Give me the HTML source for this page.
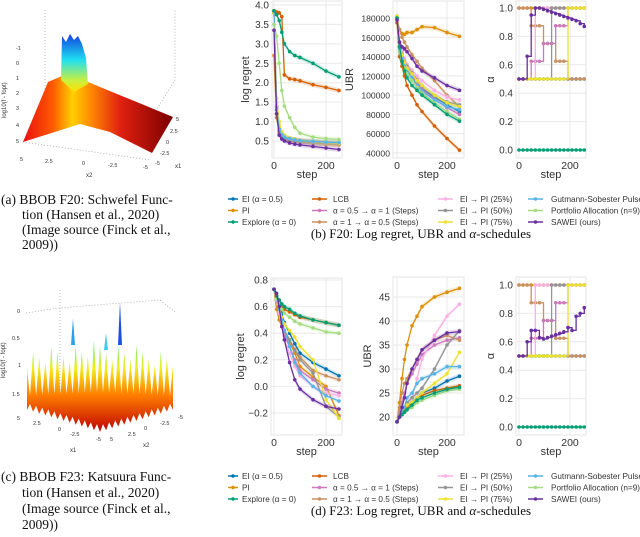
<!DOCTYPE html>
<html><head><meta charset="utf-8"><style>
body{margin:0;background:#fff;width:640px;height:537px;overflow:hidden}
svg{display:block}
.t{font-family:"Liberation Sans",sans-serif;fill:#333}
.c{font-family:"Liberation Serif",serif;fill:#111}
</style></head><body>
<svg id="fig" width="640" height="537" viewBox="0 0 640 537">
<defs>
<linearGradient id="g1" x1="0" y1="0" x2="1" y2="0"><stop offset="0" stop-color="#e81010"/><stop offset="0.2" stop-color="#ff5a00"/><stop offset="0.33" stop-color="#ffd000"/><stop offset="0.45" stop-color="#ff8a00"/><stop offset="0.65" stop-color="#e02010"/><stop offset="1" stop-color="#7a0000"/></linearGradient>
<linearGradient id="g2" x1="0" y1="0" x2="0" y2="1"><stop offset="0" stop-color="#1040e0"/><stop offset="0.45" stop-color="#20e0f0"/><stop offset="0.8" stop-color="#c8f040"/><stop offset="1" stop-color="#ffe000"/></linearGradient>
<linearGradient id="g3" gradientUnits="userSpaceOnUse" x1="0" y1="325" x2="0" y2="432"><stop offset="0" stop-color="#30c0f0"/><stop offset="0.2" stop-color="#70f070"/><stop offset="0.4" stop-color="#f0f020"/><stop offset="0.65" stop-color="#ff8000"/><stop offset="1" stop-color="#c00000"/></linearGradient>
</defs>
<g>
<polyline points="45,10 45,110 150,120 175,80 175,10" fill="none" stroke="#999" stroke-dasharray="1,2" stroke-width="0.7"/>
<polyline points="45,110 23,142 150,160" fill="none" stroke="#999" stroke-dasharray="1,2" stroke-width="0.7"/>
<polygon points="23,142 48,82 62,76 88,82 173,117 152,153 110,132 80,124" fill="url(#g1)"/>
<polygon points="61,80 62,36 66,42 70,34 74,40 78,36 82,44 86,58 88,84 74,92" fill="url(#g2)"/>
<text class="t" x="6" y="118" font-size="6" transform="rotate(-90 6 118)">log10(f - fopt)</text>
<text class="t" x="16" y="50" font-size="5.5">-1</text><text class="t" x="16" y="65" font-size="5.5">0</text><text class="t" x="16" y="80" font-size="5.5">1</text><text class="t" x="16" y="95" font-size="5.5">2</text><text class="t" x="16" y="110" font-size="5.5">3</text><text class="t" x="16" y="127" font-size="5.5">4</text><text class="t" x="16" y="143" font-size="5.5">5</text>
<text class="t" x="20" y="161" font-size="5.5">5</text><text class="t" x="45" y="163" font-size="5.5">2.5</text><text class="t" x="82" y="165" font-size="5.5">0</text><text class="t" x="108" y="167" font-size="5.5">-2.5</text><text class="t" x="143" y="169" font-size="5.5">-5</text><text class="t" x="86" y="177" font-size="6">x2</text>
<text class="t" x="176" y="121" font-size="5.5">5</text><text class="t" x="170" y="133" font-size="5.5">2.5</text><text class="t" x="166" y="144" font-size="5.5">0</text><text class="t" x="160" y="155" font-size="5.5">-2.5</text><text class="t" x="155" y="165" font-size="5.5">-5</text><text class="t" x="175" y="168" font-size="6">x1</text>
</g>
<g id="s23">
<polyline points="26,313 58,308 160,300 175,312" fill="none" stroke="#999" stroke-dasharray="1,2" stroke-width="0.7"/>
<polyline points="60,290 60,400" fill="none" stroke="#999" stroke-dasharray="1,2" stroke-width="0.7"/>
<polygon id="spiky" fill="url(#g3)"/>
<text class="t" x="5" y="378" font-size="6" transform="rotate(-90 5 378)">log10(f - fopt)</text>
<text class="t" x="17" y="313" font-size="5.5">0</text><text class="t" x="12" y="340" font-size="5.5">0.5</text><text class="t" x="18" y="367" font-size="5.5">1</text><text class="t" x="12" y="396" font-size="5.5">1.5</text>
<text class="t" x="17" y="420" font-size="5.5">5</text><text class="t" x="33" y="425" font-size="5.5">2.5</text><text class="t" x="58" y="431" font-size="5.5">0</text><text class="t" x="70" y="436" font-size="5.5">-2.5</text><text class="t" x="96" y="441" font-size="5.5">-5</text><text class="t" x="70" y="452" font-size="6">x1</text>
<text class="t" x="110" y="441" font-size="5.5">5</text><text class="t" x="128" y="436" font-size="5.5">2.5</text><text class="t" x="144" y="430" font-size="5.5">0</text><text class="t" x="160" y="425" font-size="5.5">-2.5</text><text class="t" x="178" y="419" font-size="5.5">-5</text><text class="t" x="143" y="447" font-size="6">x2</text>
</g>
<g class="c" font-size="13.5">
<text x="1" y="204">(a) BBOB F20: Schwefel Func-</text>
<text x="22" y="219">tion (Hansen et al., 2020)</text>
<text x="22" y="234">(Image source (Finck et al.,</text>
<text x="22" y="249">2009))</text>
</g>
<g class="c" font-size="13.5">
<text x="1" y="481">(c) BBOB F23: Katsuura Func-</text>
<text x="22" y="497">tion (Hansen et al., 2020)</text>
<text x="22" y="513">(Image source (Finck et al.,</text>
<text x="22" y="529">2009))</text>
</g>
<text class="c" x="421" y="238" font-size="13" text-anchor="middle">(b) F20: Log regret, UBR and <tspan font-style="italic">α</tspan>-schedules</text>
<text class="c" x="421" y="515" font-size="13" text-anchor="middle">(d) F23: Log regret, UBR and <tspan font-style="italic">α</tspan>-schedules</text>
<g id="charts"></g>
</svg>
<script>
// ----- data -----
const steps = [0,10,20,30,40,60,80,100,150,200,250];
const alphaSteps = [0,16,32,48,64,80,96,112,128,144,160,176,192,208,224,240,256];
const names = ["EI (α = 0.5)","PI","Explore (α = 0)","LCB","α = 0.5 → α = 1 (Steps)","α = 1 → α = 0.5 (Steps)","EI → PI (25%)","EI → PI (50%)","EI → PI (75%)","Gutmann-Sobester Pulse","Portfolio Allocation (n=9)","SAWEI (ours)"];
const colors = ["#0173b2","#de8f05","#029e73","#d55e00","#cc78bc","#ca9161","#fbafe4","#949494","#ece133","#56b4e9","#a6dc80","#6a2fa0"];
// F20 log regret
const f20Regret = [
 [3.8,1.3,0.75,0.62,0.58,0.55,0.52,0.5,0.47,0.45,0.43],
 [2.7,1.1,0.7,0.6,0.56,0.52,0.5,0.48,0.45,0.43,0.41],
 [3.85,3.75,3.6,3.3,3.0,2.8,2.7,2.65,2.5,2.3,2.15],
 [3.85,3.82,3.8,3.7,2.2,2.1,2.08,2.05,1.95,1.88,1.8],
 [3.8,1.4,0.8,0.65,0.6,0.55,0.53,0.5,0.47,0.44,0.42],
 [3.8,1.2,0.7,0.6,0.55,0.52,0.5,0.48,0.45,0.42,0.4],
 [3.8,1.5,0.9,0.7,0.62,0.57,0.54,0.52,0.49,0.47,0.45],
 [3.8,1.4,0.85,0.68,0.6,0.55,0.52,0.5,0.48,0.46,0.44],
 [3.8,1.6,1.0,0.75,0.65,0.58,0.55,0.52,0.49,0.46,0.44],
 [3.85,1.35,0.8,0.66,0.6,0.56,0.53,0.51,0.49,0.47,0.46],
 [3.5,3.2,2.5,1.8,1.4,1.1,0.85,0.7,0.6,0.56,0.54],
 [3.35,1.2,0.65,0.55,0.5,0.45,0.42,0.4,0.36,0.32,0.28]];
// F20 UBR (thousands)
const f20Ubr = [
 [180,150,140,132,127,120,113,107,98,90,83],
 [178,168,164,163,165,165,168,171,170,165,161],
 [180,150,135,125,118,110,105,100,90,80,73],
 [175,140,130,120,110,100,90,83,68,55,43],
 [180,150,140,133,128,120,113,106,96,87,80],
 [180,168,160,155,150,142,135,128,115,100,88],
 [182,155,145,138,132,126,120,115,105,98,95],
 [182,152,143,135,130,123,116,110,100,93,90],
 [182,150,142,134,128,122,115,110,100,92,88],
 [180,148,138,130,124,118,110,104,95,88,85],
 [180,145,135,128,122,115,108,102,92,83,75],
 [178,155,150,148,145,138,130,125,118,110,105]];
// F23 log regret
const f23Regret = [
 [.73,.68,.62,.55,.48,.40,.32,.25,.18,.13,.08],
 [.73,.58,.50,.45,.40,.33,.25,.15,.07,.00,-.22],
 [.73,.68,.65,.62,.60,.58,.55,.53,.50,.48,.46],
 [.73,.66,.63,.60,.58,.56,.54,.52,.50,.48,.46],
 [.73,.65,.55,.45,.38,.30,.20,.12,.05,-.02,-.05],
 [.73,.65,.58,.50,.42,.35,.28,.22,.12,.08,.05],
 [.73,.65,.55,.45,.35,.25,.15,.08,.00,-.05,-.07],
 [.73,.66,.58,.50,.42,.35,.27,.20,.10,-.15,-.23],
 [.73,.66,.60,.52,.47,.42,.37,.30,.20,-.10,-.24],
 [.73,.66,.58,.50,.42,.30,.18,.10,.00,-.07,-.11],
 [.73,.66,.62,.58,.55,.52,.49,.47,.44,.41,.40],
 [.73,.70,.60,.45,.35,.18,.05,-.02,-.10,-.15,-.17]];
// F23 UBR
const f23Ubr = [
 [19,20,21,22,22.5,23,24,25,26,27.5,28.5],
 [19,23,28,32,35,39,41,43,45,46,46.8],
 [19,20,20.5,21,21.5,22.5,23.5,24,25,25.8,26.2],
 [19,20,21,21.5,22,23,24,24.5,25.5,26,26.5],
 [19,21,23,25,27,29,31,33,35,36,36.5],
 [19,22,25,27,28,30,32,34,36,37,36],
 [19,20,21,22,23,24,28,32,37,41,43.5],
 [19,20,21,22,23,24,25,26,30,35,38],
 [19,20,21,22,22.5,23,24,25,27,29,33.5],
 [19,20,21,22,24,25,27,28,29,30.5,30.5],
 [19,20,20.5,21,21.5,22,23,23.5,24.5,25.5,25.8],
 [19,20,22,24,27,30,32,34,36,37.5,37.8]];
// alpha schedules (on alphaSteps)
const aEI   = [.5,.5,.5,.5,.5,.5,.5,.5,.5,.5,.5,.5,.5,.5,.5,.5,.5];
const aPI   = [1,1,1,1,1,1,1,1,1,1,1,1,1,1,1,1,1];
const aExp  = [0,0,0,0,0,0,0,0,0,0,0,0,0,0,0,0,0];
const aUp   = [.5,.5,.5,.625,.625,.625,.75,.75,.75,.875,.875,.875,1,1,1,1,1];
const aDown = [1,1,1,.875,.875,.875,.75,.75,.75,.625,.625,.625,.5,.5,.5,.5,.5];
const a25   = [.5,.5,.5,.5,1,1,1,1,1,1,1,1,1,1,1,1,1];
const a50   = [.5,.5,.5,.5,.5,.5,.5,.5,1,1,1,1,1,1,1,1,1];
const a75   = [.5,.5,.5,.5,.5,.5,.5,.5,.5,.5,.5,.5,1,1,1,1,1];
const aSaweiF20 = [.5,.5,.66,.95,1,1,.99,.98,.97,.96,.95,.94,.93,.92,.91,.89,.87];
const aSaweiF23 = [.5,.5,.6,.68,.68,.63,.62,.63,.64,.65,.66,.67,.70,.68,.78,.80,.84];
const regretTicksTop = [0.5,1.0,1.5,2.0,2.5,3.0,3.5,4.0];
const ubrTicksTop = [40000,60000,80000,100000,120000,140000,160000,180000];
const alphaTicks = [0.0,0.2,0.4,0.6,0.8,1.0];
const regretTicksBot = [-0.2,0.0,0.2,0.4,0.6,0.8];
const ubrTicksBot = [20,25,30,35,40,45];
const stepTicks = [0,200];

const NS="http://www.w3.org/2000/svg";
const root=document.getElementById('charts');
function mk(tag,attrs,parent){const e=document.createElementNS(NS,tag);for(const k in attrs)e.setAttribute(k,attrs[k]);(parent||root).appendChild(e);return e;}
function lin(d0,r0,d1,r1){return v=>r0+(v-d0)*(r1-r0)/(d1-d0);}

function panel(name,box,xs,ys,ticks,fmt,ylabel,series,xsArr,isStep,tfs){
  const g=mk('g',{});
  
  
  const [x0,y0,x1,y1]=box;
  mk('rect',{x:x0,y:y0,width:x1-x0,height:y1-y0,fill:'#fff',stroke:'#e6e6e6','stroke-width':1},g);
  ticks.forEach(t=>{const y=ys(t);
    const gl=mk('line',{x1:x0,x2:x1,y1:y,y2:y,stroke:'#e9e9e9','stroke-width':1},g);
    
    
    const tx=mk('text',{x:x0-3,y:y+3.5,'text-anchor':'end','font-size':tfs||10,class:'t'},g);tx.textContent=fmt(t);
    
    
  });
  stepTicks.forEach(t=>{const x=xs(t);
    mk('line',{x1:x,x2:x,y1:y0,y2:y1,stroke:'#e9e9e9','stroke-width':1},g);
    const tx=mk('text',{x:x,y:y1+11,'text-anchor':'middle','font-size':10.5,class:'t'},g);tx.textContent=t;
    
    
  });
  const xl=mk('text',{x:(x0+x1)/2,y:y1+20,'text-anchor':'middle','font-size':11,class:'t'},g);xl.textContent='step';
  
  
  const yc=(y0+y1)/2, lx=ylabel.x;
  const yl=mk('text',{x:lx,y:yc,'text-anchor':'middle','font-size':11,class:'t',transform:`rotate(-90 ${lx} ${yc})`},g);yl.textContent=ylabel.t;
  
  
  const clip='clip'+name;
  const cp=mk('clipPath',{id:clip},g);mk('rect',{x:x0,y:y0,width:x1-x0,height:y1-y0},cp);
  const sg=mk('g',{'clip-path':`url(#${clip})`},g);
  series.forEach((s,i)=>{ if(!s) return;
    let pts=[];
    s.vals.forEach((v,j)=>{const X=xs(xsArr[j]),Y=ys(v);
      if(isStep&&j>0){pts.push([X,ys(s.vals[j-1])]);}
      pts.push([X,Y]);});
    if(isStep) pts.push([xs(256),ys(s.vals[s.vals.length-1])]);
    const d=pts.map(p=>p[0].toFixed(1)+','+p[1].toFixed(1)).join(' ');
    if(!isStep){
      const band=pts.map(p=>p[0].toFixed(1)+','+(p[1]-2.5).toFixed(1)).join(' ')+' '+pts.slice().reverse().map(p=>p[0].toFixed(1)+','+(p[1]+2.5).toFixed(1)).join(' ');
      const b=mk('polygon',{points:band,fill:s.c,opacity:0.18},sg);
      
      
    }
    const pl=mk('polyline',{points:d,fill:'none',stroke:s.c,'stroke-width':1.3},sg);
    
    
    s.vals.forEach((v,j)=>{
      const m=mk('circle',{cx:xs(xsArr[j]),cy:ys(v),r:1.8,fill:s.c},sg);
      
      
    });
  });
}
const keys=["ei","pi","explore","lcb","steps-up","steps-down","ei-pi-25","ei-pi-50","ei-pi-75","gutmann","portfolio","sawei"];
const order=[0,1,3,4,5,6,7,8,9,10,2,11];
function ser(arr){return order.map(i=>arr[i]?{vals:arr[i],c:colors[i],k:keys[i]}:null);}
const fmt1=t=>t.toFixed(1);
const alphaTop=[aEI,aPI,aExp,null,aUp,aDown,a25,a50,a75,aEI,null,aSaweiF20];
const alphaBot=[aEI,aPI,aExp,null,aUp,aDown,a25,a50,a75,aEI,null,aSaweiF23];
const alphaOrder=[0,9,1,5,4,6,7,8,2,11];
function aser(arr){return alphaOrder.map(i=>arr[i]?{vals:arr[i],c:colors[i],k:keys[i]}:null);}

panel('f20-log-regret-chart',[272,1,342,158],lin(0,274,200,326),lin(4,5,0.5,141),regretTicksTop,fmt1,{x:249,t:'log regret'},ser(f20Regret),steps,false,10);
panel('f20-ubr-chart',[393,1,464,158],lin(0,397,200,447),lin(180000,18,40000,153),ubrTicksTop,t=>t,{x:353,t:'UBR'},ser(f20Ubr.map(a=>a.map(v=>v*1000))),steps,false,8.6);
panel('f20-alpha-chart',[516,1,586,158],lin(0,519,200,570),lin(1,8,0,150),alphaTicks,fmt1,{x:494,t:'α'},aser(alphaTop),alphaSteps,true,10);
panel('f23-log-regret-chart',[271,278,342,435],lin(0,274,200,326),lin(0.8,280,-0.2,413),regretTicksBot,t=>t.toFixed(1).replace('-','−'),{x:244,t:'log regret'},ser(f23Regret),steps,false,10);
panel('f23-ubr-chart',[393,277,464,435],lin(0,397,200,447),lin(45,297,20,417),ubrTicksBot,t=>t,{x:371,t:'UBR'},ser(f23Ubr),steps,false,10);
panel('f23-alpha-chart',[516,277,586,435],lin(0,519,200,570),lin(1,285,0,427),alphaTicks,fmt1,{x:494,t:'α'},aser(alphaBot),alphaSteps,true,10);

// legends
function legend(name,y0){
  const g=mk('g',{});
  
  
  const cols=[[228,238,242],[312,327,333],[438,453,460],[528,543,551]];
  const grid=[[0,1,2],[3,4,5],[6,7,8],[9,10,11]];
  grid.forEach((col,ci)=>col.forEach((idx,ri)=>{
    const y=y0+ri*11.5, c=cols[ci];
    const e=mk('g',{},g);
    
    
    mk('line',{x1:c[0],x2:c[1],y1:y,y2:y,stroke:colors[idx],'stroke-width':1.5},e);
    mk('circle',{cx:(c[0]+c[1])/2,cy:y,r:1.7,fill:colors[idx]},e);
    const t=mk('text',{x:c[2],y:y+3,'font-size':8.2,class:'t'},e);t.textContent=names[idx];
  }));
}
legend('legend-f20',199);
legend('legend-f23',476);

// spiky F23 surface (decorative)
(function(){
  const sp=document.getElementById('spiky');
  const s23=document.getElementById('s23');
  const n=48, xa=27, xb=173;
  const pts=[];
  for(let i=0;i<=n;i++){
    const x=xa+i*(xb-xa)/n;
    const f=Math.abs(i-n/2)/(n/2);
    const base=392+f*4;
    const h=(i%2===0)?(34+((i*13)%7)*3-f*6):0;
    pts.push([x,base-h]);
  }
  const bot=[];
  for(let i=n;i>=0;i--){
    const x=xa+i*(xb-xa)/n;
    const f=Math.abs(i-n/2)/(n/2);
    const b=432-f*22;
    bot.push([x,b-((i%2)?7:0)]);
  }
  sp.setAttribute('points',[...pts,...bot].map(p=>p[0].toFixed(1)+','+p[1].toFixed(1)).join(' '));
  mk('polygon',{points:'71,345 73,318 75,345',fill:'#2aa0f0'},s23);
  mk('polygon',{points:'118,345 120,302 122,345',fill:'#2050e0'},s23);
  mk('polygon',{points:'104,350 106,333 108,350',fill:'#40c8f0'},s23);
})();
</script>
</body></html>
